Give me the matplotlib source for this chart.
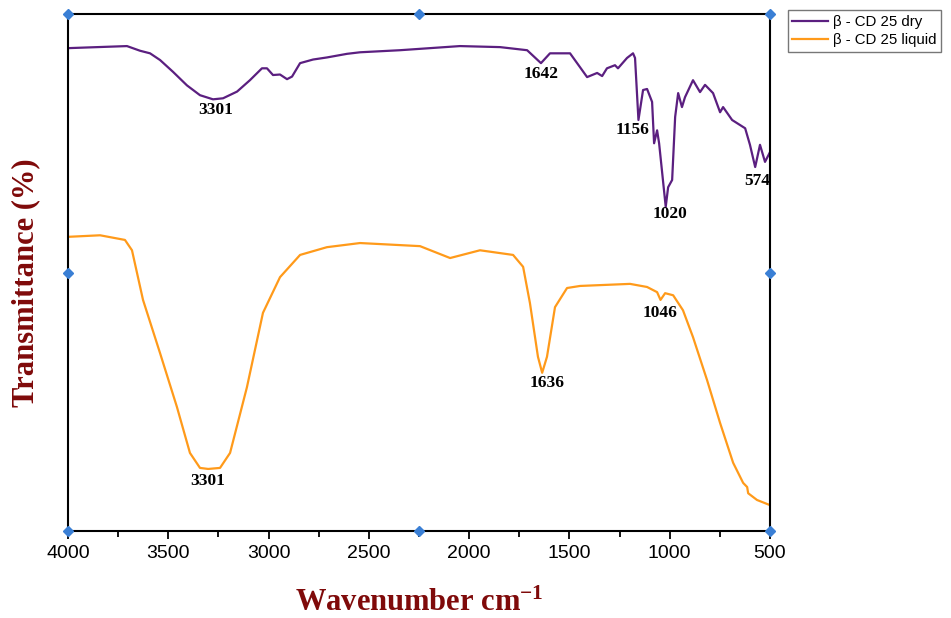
import matplotlib.pyplot as plt
import numpy as np

plt.rcParams['mathtext.fontset'] = 'custom'
plt.rcParams['mathtext.rm'] = 'Liberation Serif:bold'
plt.rcParams['mathtext.default'] = 'rm'

# FTIR spectra (wavenumber, relative transmittance)
wn_dry = [4000, 3706, 3641, 3591, 3541, 3476, 3407, 3342, 3277, 3227, 3157, 3093,
          3033, 3008, 2978, 2943, 2908, 2883, 2843, 2778, 2709, 2609, 2544, 2345,
          2046, 1846, 1711, 1642, 1597, 1497, 1447,
          1412, 1362, 1337, 1313, 1273, 1258, 1213, 1183, 1173, 1156, 1133, 1113,
          1088, 1078, 1063, 1053, 1020, 1008, 988, 973, 958, 939, 924, 884, 849,
          824, 784, 749, 734, 689, 624, 600, 574, 550, 525, 500]
t_dry = [93.4, 93.8, 92.9, 92.4, 91.1, 88.8, 86.2, 84.3, 83.5, 83.7, 85.0, 87.2,
         89.5, 89.5, 88.2, 88.3, 87.4, 87.9, 90.5, 91.2, 91.6, 92.3, 92.6, 93.0,
         93.8, 93.6, 93.0, 90.5, 92.4, 92.4, 89.7,
         87.8, 88.6, 88.0, 89.5, 90.1, 89.5, 91.5, 92.4, 91.5, 79.5, 85.3, 85.5,
         83.0, 75.0, 77.5, 75.0, 62.7, 66.5, 67.9, 80.1, 84.7, 82.0, 83.9, 87.2, 84.9,
         86.3, 84.7, 81.0, 82.0, 79.5, 77.9, 74.7, 70.4, 74.7, 71.4, 73.3]

wn_liq = [4000, 3840, 3716, 3681, 3626, 3541, 3457, 3392, 3342, 3301, 3242, 3192,
          3108, 3028, 2943, 2843, 2709, 2544, 2245, 2095, 1946, 1781, 1731, 1697,
          1657, 1636, 1612, 1572, 1512, 1447, 1198, 1113, 1063, 1046, 1023, 983,
          934, 884, 814, 749, 684, 634, 614, 609, 565, 500]
t_liq = [56.9, 57.2, 56.3, 54.3, 44.7, 34.4, 24.0, 15.1, 12.2, 12.0, 12.2, 15.1,
         27.8, 42.2, 49.1, 53.4, 54.9, 55.7, 55.1, 52.8, 54.3, 53.4, 51.1, 44.1,
         33.7, 30.6, 33.7, 43.3, 47.0, 47.4, 47.8, 47.2, 46.2, 44.7, 46.0, 45.6,
         42.7, 37.5, 29.2, 20.9, 13.2, 9.3, 8.5, 7.3, 6.0, 5.0]

# peak labels: (label, wavenumber of label, transmittance of label)
peaks_dry = [(3301, 3262, 81.4), (1642, 1642, 88.4), (1156, 1188, 77.6),
             (1020, 998, 61.3), (574, 565, 67.7)]
peaks_liq = [(3301, 3302, 9.7), (1636, 1612, 28.6), (1046, 1048, 42.2)]

purple = '#5b1f80'
orange = '#ff9a1a'
dark_red = '#7f0a0a'

fig = plt.figure(figsize=(9.51, 6.18), dpi=100)
ax = fig.add_axes([0.0715, 0.1408, 0.7382, 0.8365])

ax.plot(wn_dry, t_dry, color=purple, lw=1.6, label='β - CD 25 dry')
ax.plot(wn_liq, t_liq, color=orange, lw=1.6, label='β - CD 25 liquid')

for lab, x, y in peaks_dry + peaks_liq:
    ax.text(x, y, str(lab), ha='center', va='center', fontsize=12.5,
            fontweight='bold', family='Liberation Serif')

ax.set_xlim(4000, 500)
ax.set_ylim(0, 100)
ax.set_xticks(np.arange(4000, 499, -500))
ax.set_xticks(np.arange(3750, 500, -500), minor=True)
ax.set_yticks([])
ax.tick_params(axis='x', which='major', direction='out', length=6, width=1.3,
               labelsize=14, pad=4)
ax.tick_params(axis='x', which='minor', direction='out', length=4, width=1.3)
for s in ax.spines.values():
    s.set_linewidth(1.5)
for lbl in ax.get_xticklabels():
    lbl.set_family('Liberation Sans')

ax.set_xlabel('Wavenumber cm$^{-1}$', fontsize=22, fontweight='bold',
              family='Liberation Serif', color=dark_red)
ax.set_ylabel('Transmittance (%)', fontsize=22, fontweight='bold',
              family='Liberation Serif', color=dark_red)
ax.xaxis.set_label_coords(0.5, -0.112)
ax.yaxis.set_label_coords(-0.040, 0.48)

# selection handles around the plot frame
hx = [0, 0.5, 1, 0, 1, 0, 0.5, 1]
hy = [1, 1, 1, 0.5, 0.5, 0, 0, 0]
ax.plot(hx, hy, 'D', color='#3a7fd5', ms=5, transform=ax.transAxes,
        clip_on=False, zorder=5)

leg = fig.legend(loc='upper left', bbox_to_anchor=(0.825, 0.988),
                 frameon=True, fancybox=False, edgecolor='#555555',
                 prop={'family': 'Liberation Sans', 'size': 10.8},
                 handlelength=2.4, handletextpad=0.3, borderpad=0.3,
                 labelspacing=0.3, borderaxespad=0.2)
leg.get_frame().set_linewidth(1.0)

fig.savefig('out.png', dpi=100)
